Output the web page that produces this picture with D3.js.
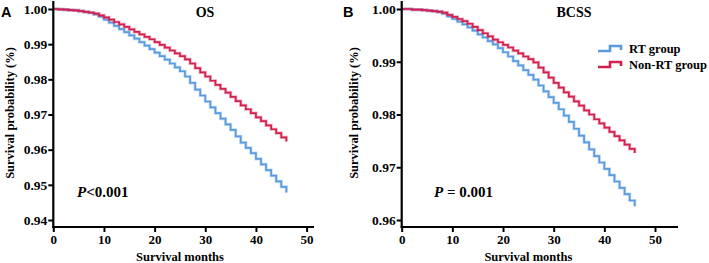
<!DOCTYPE html>
<html>
<head>
<meta charset="utf-8">
<script src="https://cdn.jsdelivr.net/npm/d3@7"></script>
<style>
  body { margin: 0; background: #fff; }
  svg text { font-family: "Liberation Serif", Tinos, "Times New Roman", Times, "DejaVu Serif", serif !important; font-weight: bold; }
  svg text.letter { font-family: "Liberation Sans", Arial, sans-serif !important; }
</style>
</head>
<body>
<div id="container"></div>
<script>
/* CONSTANTS AND GLOBALS */
const width = 709,
    height = 263;

const blue = "#5a9ae0",
    red = "#d3214f";

/* DATA */
const months = d3.range(0, 47);

const osNonRT = [1.0000, 0.9999, 0.9998, 0.9997, 0.9996, 0.9994, 0.9992, 0.9990, 0.9987, 0.9982,
    0.9976, 0.9970, 0.9963, 0.9956, 0.9949, 0.9942, 0.9935, 0.9928, 0.9921, 0.9914,
    0.9906, 0.9898, 0.9890, 0.9882, 0.9874, 0.9866, 0.9857, 0.9845, 0.9832, 0.9820,
    0.9808, 0.9796, 0.9784, 0.9773, 0.9762, 0.9750, 0.9738, 0.9726, 0.9715, 0.9704,
    0.9692, 0.9681, 0.9669, 0.9658, 0.9647, 0.9635, 0.9623];

const osRT = [1.0000, 0.9999, 0.9998, 0.9997, 0.9996, 0.9994, 0.9992, 0.9989, 0.9985, 0.9978,
    0.9970, 0.9961, 0.9952, 0.9943, 0.9934, 0.9925, 0.9916, 0.9906, 0.9896, 0.9886,
    0.9876, 0.9866, 0.9856, 0.9845, 0.9834, 0.9823, 0.9808, 0.9790, 0.9771, 0.9754,
    0.9737, 0.9720, 0.9704, 0.9688, 0.9672, 0.9656, 0.9638, 0.9620, 0.9605, 0.9590,
    0.9574, 0.9558, 0.9542, 0.9526, 0.9510, 0.9494, 0.9478];

const bcssNonRT = [1.0000, 1.0000, 0.9999, 0.9999, 0.9998, 0.9997, 0.9996, 0.9995, 0.9993, 0.9989,
    0.9985, 0.9981, 0.9977, 0.9972, 0.9966, 0.9960, 0.9954, 0.9948, 0.9942, 0.9937,
    0.9932, 0.9927, 0.9921, 0.9916, 0.9910, 0.9905, 0.9899, 0.9889, 0.9880, 0.9870,
    0.9860, 0.9851, 0.9842, 0.9834, 0.9825, 0.9817, 0.9808, 0.9800, 0.9791, 0.9783,
    0.9775, 0.9767, 0.9759, 0.9751, 0.9743, 0.9735, 0.9727];

const bcssRT = [1.0000, 1.0000, 0.9999, 0.9999, 0.9998, 0.9997, 0.9996, 0.9994, 0.9991, 0.9986,
    0.9981, 0.9976, 0.9971, 0.9965, 0.9959, 0.9952, 0.9946, 0.9939, 0.9933, 0.9926,
    0.9918, 0.9910, 0.9901, 0.9893, 0.9884, 0.9875, 0.9866, 0.9855, 0.9844, 0.9833,
    0.9822, 0.9810, 0.9798, 0.9786, 0.9773, 0.9760, 0.9747, 0.9734, 0.9721, 0.9709,
    0.9697, 0.9685, 0.9673, 0.9661, 0.9649, 0.9637, 0.9626];

const xTicks = [0, 10, 20, 30, 40, 50];
const osTicks = [0.94, 0.95, 0.96, 0.97, 0.98, 0.99, 1.00];
const bcssTicks = [0.96, 0.97, 0.98, 0.99, 1.00];
const seriesNames = ["RT group", "Non-RT group"];

const serif = "'Liberation Serif', Tinos, 'Times New Roman', Times, 'DejaVu Serif', serif";

const svg = d3.select("#container")
    .append("svg")
    .attr("width", width)
    .attr("height", height)
    .style("background-color", "white");

function drawPanel(p) {
    const xScale = d3.scaleLinear()
        .domain([0, 50])
        .range([p.x0, p.x0 + 253.3]);

    const yScale = d3.scaleLinear()
        .domain([p.ticks[0], 1.00])
        .range([220, 9]);

    const g = svg.append("g");

    // CURVES
    const line = d3.line()
        .x((d, i) => xScale(months[i]))
        .y(d => yScale(d))
        .curve(d3.curveStepAfter);

    [[p.rt, blue], [p.nonrt, red]].forEach(([vals, col]) => {
        g.append("path")
            .attr("d", line(vals))
            .attr("fill", "none")
            .attr("stroke", col)
            .attr("stroke-opacity", 0.35)
            .attr("stroke-width", 3.2);
        g.append("path")
            .attr("d", line(vals))
            .attr("fill", "none")
            .attr("stroke", col)
            .attr("stroke-width", 1.7);
    });

    // AXES
    const xAxis = d3.axisBottom(xScale).tickValues(xTicks).tickSize(5).tickSizeOuter(0);
    const yAxis = d3.axisLeft(yScale).tickValues(p.ticks).tickSize(5).tickSizeOuter(0)
        .tickFormat(d3.format(".2f"));

    const gx = g.append("g")
        .attr("transform", "translate(0,227)")
        .attr("font-family", serif)
        .call(xAxis);
    gx.select(".domain").remove();
    gx.selectAll(".tick line").attr("stroke-width", 2);
    gx.selectAll("text")
        .attr("y", 8)
        .style("font-size", "13px")
        .attr("fill", "#000");

    const gy = g.append("g")
        .attr("transform", "translate(" + p.x0 + ",0)")
        .attr("font-family", serif)
        .call(yAxis);
    gy.select(".domain").remove();
    gy.selectAll(".tick line").attr("stroke-width", 2);
    gy.selectAll("text")
        .attr("x", -6)
        .style("font-size", "13.5px")
        .attr("fill", "#000");

    g.append("line")
        .attr("x1", p.x0).attr("x2", p.x0)
        .attr("y1", 1).attr("y2", 228)
        .attr("stroke", "#000").attr("stroke-width", 2.2);
    g.append("line")
        .attr("x1", p.x0 - 1).attr("x2", p.xEnd)
        .attr("y1", 227).attr("y2", 227)
        .attr("stroke", "#000").attr("stroke-width", 2.2);

    // LABELS
    g.append("text")
        .attr("x", xScale(25))
        .attr("y", 261)
        .attr("text-anchor", "middle")
        .style("font-size", "12.5px")
        .text("Survival months");

    g.append("text")
        .attr("transform", "translate(" + p.yLabX + ",113) rotate(-90)")
        .attr("text-anchor", "middle")
        .style("font-size", "12.5px")
        .text("Survival probability (%)");

    g.append("text")
        .attr("x", p.titleX)
        .attr("y", 17)
        .attr("text-anchor", "middle")
        .style("font-size", "14px")
        .text(p.title);

    g.append("text")
        .attr("class", "letter")
        .attr("x", p.letterX)
        .attr("y", 17)
        .style("font-size", "14.5px")
        .text(p.letter);

    const pt = g.append("text")
        .attr("x", p.pX)
        .attr("y", 197)
        .style("font-size", "15px");
    pt.append("tspan").style("font-style", "italic").text("P");
    pt.append("tspan").text(p.pText);
}

drawPanel({ x0: 53.3, xEnd: 314, ticks: osTicks, rt: osRT, nonrt: osNonRT,
    title: "OS", titleX: 205, letter: "A", letterX: 1, yLabX: 14, pX: 77, pText: "<0.001" });
drawPanel({ x0: 401.7, xEnd: 678, ticks: bcssTicks, rt: bcssRT, nonrt: bcssNonRT,
    title: "BCSS", titleX: 574, letter: "B", letterX: 343, yLabX: 358, pX: 434, pText: " = 0.001" });

// LEGEND
const legend = svg.append("g");
[blue, red].forEach((col, i) => {
    const y = 51 + i * 16;
    legend.append("path")
        .attr("d", "M598," + y + " H610 V" + (y - 5) + " H621 V" + (y - 1))
        .attr("fill", "none")
        .attr("stroke", col)
        .attr("stroke-width", 2.6);
    legend.append("text")
        .attr("x", 629)
        .attr("y", y + 2)
        .style("font-size", "12.5px")
        .text(seriesNames[i]);
});
</script>
</body>
</html>
